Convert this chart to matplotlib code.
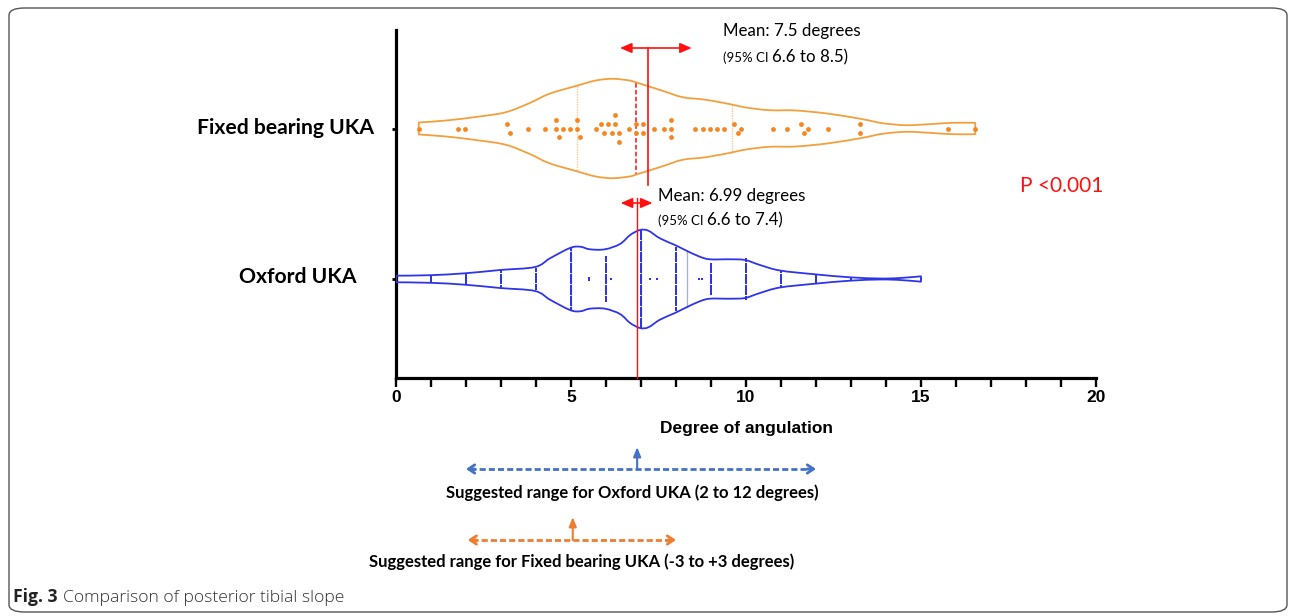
import numpy as np
import matplotlib
matplotlib.use("Agg")
import matplotlib.pyplot as plt
import matplotlib.transforms as mtransforms
from matplotlib.path import Path
from matplotlib.patches import PathPatch, FancyBboxPatch
from matplotlib.ticker import MultipleLocator
from matplotlib import font_manager

# ---------------- data ----------------
fixed_points = [0.65, 1.76, 1.96, 3.16, 3.27, 3.76, 4.26, 4.57, 4.57, 4.66, 4.76, 4.96,
                5.16, 5.16, 5.27, 5.71, 5.86, 5.95, 6.07, 6.16, 6.27, 6.27, 6.36, 6.36,
                6.67, 6.86, 6.86, 7.07, 7.07, 7.36, 7.67, 7.87, 7.87, 7.87, 8.55, 8.76,
                8.96, 9.16, 9.36, 9.66, 9.77, 9.86, 10.76, 11.16, 11.56, 11.66, 11.76,
                12.35, 13.27, 13.27, 15.77, 16.55]
# violin outline (degree, relative half width)
fixed_profile_x = [0.65, 1.43, 2.38, 3.14, 3.81, 4.38, 5.16, 5.71, 6.19, 6.67, 6.87, 7.62,
                   8.19, 8.86, 9.59, 10.0, 10.67, 11.43, 12.38, 13.33, 13.9, 14.57, 15.24,
                   15.9, 16.55]
fixed_profile_w = [6, 8, 12, 16.3, 25.3, 34.7, 42.7, 48, 49.7, 48, 46, 37.7, 31.3, 28.7,
                   24, 21, 18.3, 18, 14.7, 9.3, 5.3, 3.3, 4.3, 5.7, 5.7]
fixed_median = 6.87
fixed_quartiles = [5.16, 9.59]
fixed_mean_marker = 7.21
fixed_ci_arrow = [6.4, 8.45]

oxford_values = [0, 1, 2, 3, 4, 5, 5.5, 6, 6.15, 7, 7.25, 7.45, 8, 8.65, 8.75, 9, 10, 11, 12, 13, 15]
oxford_counts = [1, 4, 5, 9, 10, 29, 2, 21, 1, 45, 1, 1, 29, 1, 1, 15, 19, 7, 5, 2, 1]
oxford_profile_x = [0, 0.97, 1.97, 2.97, 3.97, 4.4, 4.97, 5.26, 5.54, 5.97, 6.4, 6.69, 6.97,
                    7.21, 7.54, 7.97, 8.3, 8.68, 8.97, 9.54, 9.97, 10.4, 10.97, 11.97, 12.97,
                    13.83, 14.4, 15.0]
oxford_profile_w = [3.3, 3.8, 5.7, 9, 12, 20.7, 31, 32.3, 29.7, 29.7, 35, 44, 49, 48.3, 40.7,
                    34, 28.3, 22.3, 19.7, 19.7, 19, 14, 8.5, 4.7, 1.7, 0.5, 1, 2.7]
oxford_median = 7.0
oxford_quartiles = [5.0, 8.3]
oxford_mean_marker = 6.88
oxford_ci_arrow = [6.42, 7.33]

oxford_suggested = [2.0, 12.0]
oxford_suggested_mark = 6.89
fixed_suggested = [2.05, 8.0]
fixed_suggested_mark = 5.05

group_labels = ["Fixed bearing UKA", "Oxford UKA"]
x_ticks = [0, 5, 10, 15, 20]

# ---------------- styling ----------------
W, H = 1290, 616
fig = plt.figure(figsize=(W / 100, H / 100), dpi=100)


def fx(px):
    return px / W


def fy(py):
    return 1 - py / H


def has_font(name):
    try:
        font_manager.findfont(name, fallback_to_default=False)
        return True
    except Exception:
        return False


NARROW = "Liberation Sans Narrow" if has_font("Liberation Sans Narrow") else "Liberation Sans"
SANS = "Lato" if has_font("Lato") else "DejaVu Sans"
CAP = "Open Sans" if has_font("Open Sans") else SANS

ORANGE_LINE = "#F2A03D"
ORANGE_DOT = "#F7851E"
ORANGE_Q = "#F6C896"
BLUE = "#2F35E6"
BLUE_Q = "#A6AAF2"
RED = "#FF1010"
OFFICE_BLUE = "#4472C4"
OFFICE_ORANGE = "#ED7D31"

ax = fig.add_axes([fx(396), fy(378), fx(1096) - fx(396), fy(30) - fy(378)])
ax.set_xlim(0, 20)
ax.set_ylim(378, 30)   # vertical units = pixels (inverted)
fixed_y = 128.5
oxford_y = 279.0
scale_w = 1.0  # profile widths are in pixel-like units

for s in ["top", "right"]:
    ax.spines[s].set_visible(False)
for s in ["left", "bottom"]:
    ax.spines[s].set_linewidth(2.3)
ax.xaxis.set_major_locator(MultipleLocator(5))
ax.xaxis.set_minor_locator(MultipleLocator(1))
ax.set_xticks(x_ticks)
ax.set_xticklabels([str(t) for t in x_ticks])
ax.tick_params(axis="x", which="both", length=6.5, width=1.7, direction="out")
ax.tick_params(axis="x", which="major", labelsize=12.5, pad=2.5)
for lbl in ax.get_xticklabels():
    lbl.set_fontweight("bold")
    lbl.set_family(NARROW)
ax.set_yticks([fixed_y, oxford_y])
ax.set_yticklabels([])
ax.tick_params(axis="y", length=3, width=2)
ax.patch.set_alpha(0)


def smooth_path(xs, ys):
    pts = np.column_stack([xs, ys]).astype(float)
    n = len(pts)
    verts, codes = [], []
    for i in range(n - 1):
        p0 = pts[i - 1] if i > 0 else pts[i]
        p1, p2 = pts[i], pts[i + 1]
        p3 = pts[i + 2] if i + 2 < n else pts[i + 1]
        c1 = p1 + (p2 - p0) / 6.0
        c2 = p2 - (p3 - p1) / 6.0
        verts += [c1, c2, p2]
        codes += [Path.CURVE4] * 3
    return pts[0], verts, codes


def violin(xs, ws, yc, color, lw):
    xs = np.asarray(xs, float)
    ws = np.asarray(ws, float) * scale_w
    s0, v1, c1 = smooth_path(xs, yc - ws)
    s1, v2, c2 = smooth_path(xs[::-1], (yc + ws)[::-1])
    verts = [s0] + v1 + [s1] + v2 + [s0]
    codes = [Path.MOVETO] + c1 + [Path.LINETO] + c2 + [Path.CLOSEPOLY]
    ax.add_patch(PathPatch(Path(verts, codes), facecolor="none", edgecolor=color, lw=lw,
                           joinstyle="round", zorder=3))


def hw_at(xs, ws, x):
    return np.interp(x, xs, ws) * scale_w


# ---- Fixed bearing violin ----
violin(fixed_profile_x, fixed_profile_w, fixed_y, ORANGE_LINE, 1.3)
for q in fixed_quartiles:
    h = hw_at(fixed_profile_x, fixed_profile_w, q)
    ax.plot([q, q], [fixed_y - h, fixed_y + h], color=ORANGE_Q, lw=1.0, ls=(0, (1, 0.8)), zorder=2)
h = hw_at(fixed_profile_x, fixed_profile_w, fixed_median)
ax.plot([fixed_median] * 2, [fixed_y - h, fixed_y + h], color=RED, lw=1.1, ls=(0, (3, 1.5)), zorder=2)

# simple swarm for fixed points
pts = np.sort(np.asarray(fixed_points, float))
groups = []
for v in pts:
    if groups and v - groups[-1][0] < 0.15:
        groups[-1].append(v)
    else:
        groups.append([v])
gx, gy = [], []
step = 8.7
for g in groups:
    n = len(g)
    for i, v in enumerate(g):
        gx.append(v)
        gy.append(fixed_y + (i - (n - 1) / 2) * step)
ax.scatter(gx, gy, s=12, color=ORANGE_DOT, linewidths=0, zorder=4)

# ---- Oxford violin ----
violin(oxford_profile_x, oxford_profile_w, oxford_y, BLUE, 1.3)
for q in oxford_quartiles + [oxford_median]:
    h = hw_at(oxford_profile_x, oxford_profile_w, q)
    ax.plot([q, q], [oxford_y - h, oxford_y + h], color=BLUE_Q, lw=0.9, zorder=2)
ox, oy = [], []
ostep = 2.2
for v, c in zip(oxford_values, oxford_counts):
    for i in range(c):
        ox.append(v)
        oy.append(oxford_y + (i - (c - 1) / 2) * ostep)
ax.scatter(ox, oy, s=1.0, marker="s", color=BLUE, linewidths=0, zorder=4)

# ---- mean markers and CI arrows ----
ax.plot([fixed_mean_marker] * 2, [48, 185], color=RED, lw=1.2, zorder=5, clip_on=False)
ax.plot([oxford_mean_marker] * 2, [198, 378], color=RED, lw=1.0, zorder=5, clip_on=False)
for (a, b), yy in [(fixed_ci_arrow, 48), (oxford_ci_arrow, 203)]:
    ax.annotate("", xy=(b, yy), xytext=(a, yy),
                arrowprops=dict(arrowstyle="<|-|>,head_length=0.7,head_width=0.3",
                                color=RED, lw=1.2, shrinkA=0, shrinkB=0),
                annotation_clip=False, zorder=6)

# ---- group labels ----
ax.text(-0.63, fixed_y, group_labels[0], ha="right", va="center", fontsize=15.2,
        fontweight="bold", family=SANS)
ax.text(-1.14, oxford_y - 2, group_labels[1], ha="right", va="center", fontsize=15.2,
        fontweight="bold", family=SANS)

fig.text(fx(746), fy(428), "Degree of angulation", ha="center", va="center",
         fontsize=12.5, fontweight="bold", family=NARROW)

renderer = fig.canvas.get_renderer()


def two_part(px, py, small, big, ssize, bsize):
    t1 = fig.text(fx(px), fy(py), small, fontsize=ssize, family=SANS, va="baseline", ha="left")
    bb = t1.get_window_extent(renderer=renderer)
    fig.text(bb.x1 / W, fy(py), big, fontsize=bsize, family=SANS, va="baseline", ha="left")


fig.text(fx(723), fy(36), "Mean: 7.5 degrees", fontsize=12.2, family=SANS, va="baseline")
two_part(723, 62, "(95% CI ", "6.6 to 8.5)", 9.5, 12.2)
fig.text(fx(658), fy(201), "Mean: 6.99 degrees", fontsize=12.2, family=SANS, va="baseline")
two_part(658, 225, "(95% CI ", "6.6 to 7.4)", 9.5, 12.2)

fig.text(fx(1020), fy(186), "P <0.001", fontsize=15, family=SANS, color=RED, va="center")

# ---- suggested ranges below the axis ----
trans = mtransforms.blended_transform_factory(ax.transData, fig.transFigure)


def range_arrow(rng, mark, ypx, ytop, color):
    a, b = rng
    ax.plot([a + 0.12, b - 0.12], [fy(ypx)] * 2, transform=trans, color=color, lw=2.0,
            ls=(0, (2.2, 1.1)), clip_on=False, solid_capstyle="butt")
    for end, inner in [(a, a + 0.25), (b, b - 0.25)]:
        ax.annotate("", xy=(end, fy(ypx)), xytext=(inner, fy(ypx)), xycoords=trans,
                    textcoords=trans,
                    arrowprops=dict(arrowstyle="->,head_length=0.45,head_width=0.3",
                                    color=color, lw=2.0, shrinkA=0, shrinkB=0),
                    annotation_clip=False)
    ax.annotate("", xy=(mark, fy(ytop)), xytext=(mark, fy(ypx)), xycoords=trans,
                textcoords=trans,
                arrowprops=dict(arrowstyle="-|>,head_length=0.55,head_width=0.22",
                                color=color, lw=1.5, shrinkA=0, shrinkB=0),
                annotation_clip=False)


range_arrow(oxford_suggested, oxford_suggested_mark, 469, 447, OFFICE_BLUE)
range_arrow(fixed_suggested, fixed_suggested_mark, 540, 517, OFFICE_ORANGE)

fig.text(fx(632), fy(493), "Suggested range for Oxford UKA (2 to 12 degrees)", ha="center",
         va="center", fontsize=12, fontweight="bold", family=SANS)
fig.text(fx(582), fy(562), "Suggested range for Fixed bearing UKA (-3 to +3 degrees)",
         ha="center", va="center", fontsize=12, fontweight="bold", family=SANS)

# ---- caption and frame ----
c1 = fig.text(fx(13), fy(602), "Fig. 3", fontsize=12.6, fontweight="bold", family=CAP,
              va="baseline", color="#222222")
bb = c1.get_window_extent(renderer=renderer)
fig.text((bb.x1 + 5) / W, fy(602), "Comparison of posterior tibial slope", fontsize=12.6,
         fontweight="light", family=CAP, va="baseline", color="#333333")

frame = FancyBboxPatch((fx(9), fy(612)), fx(1287) - fx(9), fy(8) - fy(612),
                       boxstyle="round,pad=0,rounding_size=0.012", transform=fig.transFigure,
                       facecolor="none", edgecolor="#555555", lw=1.0)
fig.patches.append(frame)

fig.savefig("out.png", dpi=100)
